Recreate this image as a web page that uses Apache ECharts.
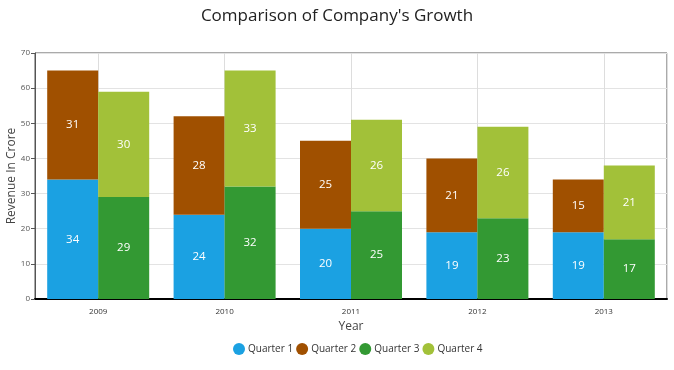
<!DOCTYPE html>
<html><head><meta charset="utf-8">
<script src="https://cdn.jsdelivr.net/npm/echarts@6/dist/echarts.min.js"></script>
<style>html,body{margin:0;padding:0;background:#fff}#c{width:674px;height:370px}</style>
</head><body><div id="c"></div>
<script>
var years = ['2009', '2010', '2011', '2012', '2013'];
var q1 = [34, 24, 20, 19, 19];
var q2 = [31, 28, 25, 21, 15];
var q3 = [29, 32, 25, 23, 17];
var q4 = [30, 33, 26, 26, 21];
var yTicks = {min: 0, max: 70, interval: 10};

var FONT = '"Open Sans", "Noto Sans", sans-serif';
var halfCats = [];
years.forEach(function (y) { halfCats.push(y + 'a', y + 'b'); });

function mk(name, data, stack, color) {
  return {
    name: name, type: 'bar', stack: stack, data: data,
    barWidth: 51, barGap: '0%',
    itemStyle: {color: color},
    label: {show: true, position: 'inside', color: '#fff', fontSize: 11.5, fontFamily: FONT}
  };
}

var chart = echarts.init(document.getElementById('c'), null, {renderer: 'canvas'});
chart.setOption({
  animation: false,
  title: {text: "Comparison of Company's Growth", left: 'center', top: 3,
    textStyle: {fontFamily: FONT, fontSize: 17, fontWeight: 'normal', color: '#222'}},
  grid: {left: 35, right: 7, top: 53, bottom: 71, containLabel: false, outerBoundsMode: 'none',
    show: true, borderColor: '#555', borderWidth: 1},
  legend: {bottom: 10, left: 228, icon: 'circle', itemWidth: 12, itemHeight: 12, itemGap: 3,
    textStyle: {fontFamily: FONT, fontSize: 10, color: '#333', padding: [0, 0, 0, -2]},
    data: ['Quarter 1', 'Quarter 2', 'Quarter 3', 'Quarter 4']},
  xAxis: [{
    type: 'category', data: years, name: 'Year', nameLocation: 'middle', nameGap: 22,
    nameMoveOverlap: false,
    nameTextStyle: {fontFamily: FONT, fontSize: 12, color: '#444'},
    axisLine: {lineStyle: {color: '#000', width: 2}},
    axisTick: {alignWithLabel: true, length: 4, lineStyle: {color: '#555'}},
    axisLabel: {fontFamily: FONT, fontSize: 8, color: '#333', margin: 9},
    splitLine: {show: false}
  }, {
    type: 'category', data: halfCats, position: 'bottom', show: true,
    axisLine: {show: false}, axisTick: {show: false}, axisLabel: {show: false},
    splitLine: {show: true, interval: function (i) { return i % 2 === 1; },
      lineStyle: {color: '#ddd', width: 1}}
  }],
  yAxis: {
    type: 'value', min: yTicks.min, max: yTicks.max, interval: yTicks.interval,
    name: 'Revenue In Crore', nameLocation: 'middle', nameGap: 17, nameMoveOverlap: false,
    nameTextStyle: {fontFamily: FONT, fontSize: 12, color: '#444'},
    axisLine: {show: true, lineStyle: {color: '#555'}},
    axisTick: {show: true, length: 4, lineStyle: {color: '#555'}},
    axisLabel: {fontFamily: FONT, fontSize: 8, color: '#555', margin: 5},
    splitLine: {lineStyle: {color: '#e3e3e3'}}
  },
  series: [
    mk('Quarter 1', q1, 'a', '#1ba1e2'),
    mk('Quarter 2', q2, 'a', '#a05000'),
    mk('Quarter 3', q3, 'b', '#339933'),
    mk('Quarter 4', q4, 'b', '#a2c139')
  ]
});
</script></body></html>
